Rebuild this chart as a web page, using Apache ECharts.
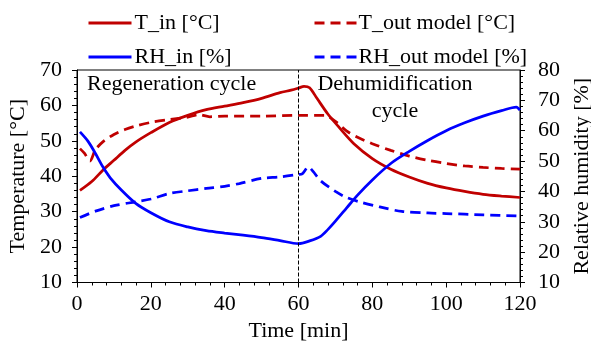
<!DOCTYPE html>
<html>
<head>
<meta charset="utf-8">
<script src="https://cdn.jsdelivr.net/npm/echarts@6/dist/echarts.min.js"></script>
<style>html,body{margin:0;padding:0;background:#fff}#c{width:591px;height:349px}</style>
</head>
<body>
<div id="c"></div>
<script>
// ---- Data ----
const tInTime = [0.8, 4, 7, 10, 13, 16, 20, 25, 30, 35, 40, 45, 50, 55, 58, 60, 61.5, 63, 65, 68, 71, 75, 80, 85, 90, 95, 100, 105, 110, 115, 120];
const tInVal  = [36, 38.5, 41.7, 44.5, 47.3, 49.7, 52.3, 55.2, 57.2, 58.8, 59.8, 60.8, 62.0, 63.6, 64.3, 64.9, 65.4, 65, 62, 57.5, 53.8, 49.2, 45, 42, 39.8, 38, 36.7, 35.7, 34.9, 34.4, 34];

const tOutTime = [0.8, 2, 3.5, 5, 7, 10, 13, 16, 20, 25, 30, 33, 36, 40, 50, 60, 67, 70, 73, 76, 80, 85, 90, 95, 100, 105, 110, 115, 120];
const tOutVal  = [47.8, 46.5, 44.3, 47.5, 49.7, 51.8, 53.2, 54.2, 55.2, 56, 56.7, 57.4, 56.8, 57, 57, 57.2, 57.2, 55.5, 52.8, 51, 49.2, 47.3, 45.7, 44.5, 43.6, 42.9, 42.5, 42.2, 42];

const rhInTime = [0.8, 3, 5, 7, 9, 12, 16, 20, 25, 30, 35, 40, 45, 50, 55, 60, 63, 66, 68, 70, 73, 76, 80, 85, 90, 95, 100, 105, 110, 115, 119, 120];
const rhInVal  = [59.6, 56.5, 52.5, 48.1, 44.5, 40.5, 36, 33, 30, 28.3, 27.1, 26.3, 25.6, 24.8, 23.8, 22.8, 23.7, 25.2, 27.5, 30.2, 34.5, 38.8, 43.8, 49.2, 53.2, 56.8, 60, 62.6, 64.8, 66.6, 67.8, 66.8];

const rhOutTime = [0.8, 5, 10, 16, 20, 25, 30, 35, 40, 44, 50, 55, 60, 61, 62.7, 64, 66, 70, 73, 77, 82, 88, 95, 100, 110, 120];
const rhOutVal  = [31.4, 33.5, 35.3, 36.6, 37.5, 39.3, 40.2, 41, 41.7, 42.6, 44.3, 44.8, 45.6, 45.8, 48.1, 46.5, 43.5, 40, 38, 36.4, 34.9, 33.4, 32.9, 32.7, 32.3, 31.9];

const seriesNames = ['T_in [°C]', 'T_out model [°C]', 'RH_in [%]', 'RH_out model [%]'];
const cycleLabels = ['Regeneration cycle', 'Dehumidification', 'cycle'];
const switchTime = 60;

const pairs = (t, v) => t.map((x, i) => [x, v[i]]);
const FONT = 'Liberation Serif';
const FS = 22;
const LW = 2.75;
const RED = '#C00000', BLUE = '#0000FF';

const chart = echarts.init(document.getElementById('c'), null, {renderer: 'canvas'});
const axisCommon = {
  axisLine: {show: true, lineStyle: {color: '#000', width: 1}},
  axisTick: {show: true, length: 5, lineStyle: {color: '#000'}},
  minorTick: {show: true, splitNumber: 5, length: 3, lineStyle: {color: '#000'}},
  splitLine: {show: false},
  axisLabel: {color: '#000', fontFamily: FONT, fontSize: FS},
  nameTextStyle: {color: '#000', fontFamily: FONT, fontSize: FS}
};
const legendCommon = {
  top: 7, orient: 'vertical', itemGap: 12, itemWidth: 43, itemHeight: 22,
  itemStyle: {opacity: 0},
  lineStyle: {width: 3},
  textStyle: {color: '#000', fontFamily: FONT, fontSize: FS}
};
const option = {
  animation: false,
  backgroundColor: '#fff',
  grid: {left: 77, right: 71, top: 70, bottom: 66.5, show: true, borderColor: '#000', borderWidth: 1,
         containLabel: false, outerBoundsMode: 'none'},
  legend: [
    Object.assign({}, legendCommon, {left: 82, data: [seriesNames[0], seriesNames[2]],
      textStyle: Object.assign({}, legendCommon.textStyle, {padding: [0, 0, 0, -2]})}),
    Object.assign({}, legendCommon, {left: 308, data: [seriesNames[1], seriesNames[3]],
      textStyle: Object.assign({}, legendCommon.textStyle, {padding: [0, 0, 0, -4]})})
  ],
  xAxis: Object.assign({}, axisCommon, {
    type: 'value', min: 0, max: 120, interval: 20,
    name: 'Time [min]', nameLocation: 'middle', nameGap: 38,
    axisLabel: Object.assign({}, axisCommon.axisLabel, {margin: 11})
  }),
  yAxis: [
    Object.assign({}, axisCommon, {
      type: 'value', min: 10, max: 70, interval: 10, position: 'left',
      name: 'Temperature [°C]', nameLocation: 'middle', nameGap: 48,
      axisLabel: Object.assign({}, axisCommon.axisLabel, {margin: 15})
    }),
    Object.assign({}, axisCommon, {
      type: 'value', min: 10, max: 80, interval: 10, position: 'right',
      name: 'Relative humidity [%]', nameLocation: 'middle', nameGap: 49,
      axisLabel: Object.assign({}, axisCommon.axisLabel, {margin: 18})
    })
  ],
  series: [
    {name: seriesNames[0], type: 'line', yAxisIndex: 0, data: pairs(tInTime, tInVal), smooth: 0.3,
     showSymbol: false, symbol: 'none', lineStyle: {color: RED, width: LW}, itemStyle: {color: RED},
     markLine: {silent: true, symbol: 'none', label: {show: false},
       lineStyle: {color: '#000', type: [4, 2], width: 1}, data: [{xAxis: switchTime}]}},
    {name: seriesNames[1], type: 'line', yAxisIndex: 0, data: pairs(tOutTime, tOutVal), smooth: 0.3,
     showSymbol: false, symbol: 'none', lineStyle: {color: RED, width: LW, type: [10, 6]}, itemStyle: {color: RED}},
    {name: seriesNames[2], type: 'line', yAxisIndex: 1, data: pairs(rhInTime, rhInVal), smooth: 0.3,
     showSymbol: false, symbol: 'none', lineStyle: {color: BLUE, width: LW}, itemStyle: {color: BLUE}},
    {name: seriesNames[3], type: 'line', yAxisIndex: 1, data: pairs(rhOutTime, rhOutVal), smooth: 0.3,
     showSymbol: false, symbol: 'none', lineStyle: {color: BLUE, width: LW, type: [10, 6]}, itemStyle: {color: BLUE}}
  ],
  graphic: [
    {type: 'text', left: 87, top: 73, style: {text: cycleLabels[0], fill: '#000', font: FS + 'px "' + FONT + '"'}},
    {type: 'text', x: 395, y: 84, style: {text: cycleLabels[1], fill: '#000', font: FS + 'px "' + FONT + '"', align: 'center', verticalAlign: 'middle'}},
    {type: 'text', x: 395, y: 111, style: {text: cycleLabels[2], fill: '#000', font: FS + 'px "' + FONT + '"', align: 'center', verticalAlign: 'middle'}}
  ]
};
chart.setOption(option);
</script>
</body>
</html>
